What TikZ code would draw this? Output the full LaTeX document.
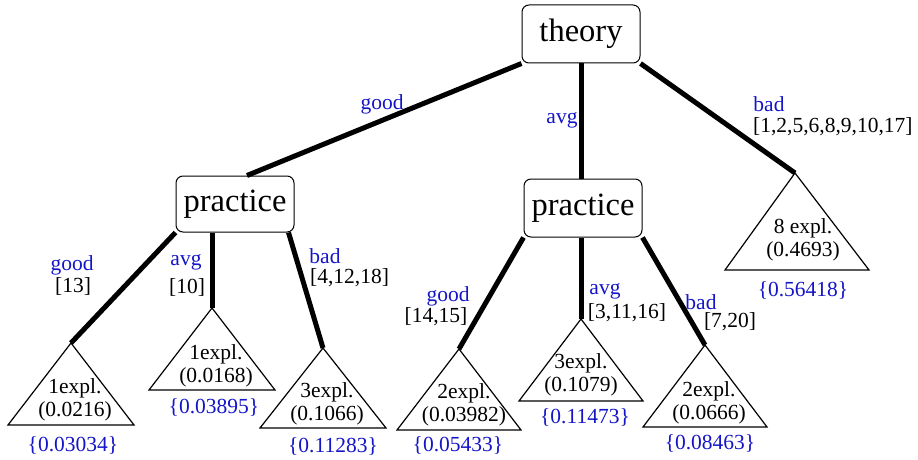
\documentclass[tikz,border=0pt]{standalone}
\usepackage{fontspec}
\setmainfont{Liberation Serif}
\usetikzlibrary{positioning,calc}
\definecolor{lblblue}{RGB}{20,20,200}

\begin{document}
\begin{tikzpicture}[x=1pt,y=-1pt, every node/.style={font=\fontsize{21.5}{23}\selectfont, inner sep=0pt}]
    \tikzset{
        attr/.style={draw, rounded corners=7pt, line width=1pt, minimum width=118pt, minimum height=56pt, font=\fontsize{32.5}{34}\selectfont},
        branch/.style={line width=5pt},
        leaf/.style={line width=1.2pt, line join=miter},
        lbl/.style={text=lblblue},
        score/.style={text=lblblue},
        expl/.style={align=center}
    }
    \useasboundingbox (0,0) rectangle (918,460);

    % attribute boxes
    \node[attr, minimum height=58pt] (theory) at (581,34) {theory};
    \node[attr] (lp) at (235,204) {practice};
    \node[attr, minimum height=58pt] (mp) at (583,208) {practice};

    % leaf apexes
    \coordinate (t1) at (71,343);
    \coordinate (t2) at (212,308);
    \coordinate (t3) at (323,348);
    \coordinate (t4) at (459,349);
    \coordinate (t5) at (581,319);
    \coordinate (t6) at (705,345);
    \coordinate (t7) at (795,173);

    % branches
    \draw[branch] (theory.south west) -- ([xshift=12pt]lp.north);
    \draw[branch] (theory.south) -- (theory.south |- mp.north);
    \draw[branch] (theory.south east) -- (t7);
    \draw[branch] (lp.south west) -- (t1);
    \draw[branch] (t2 |- lp.south) -- (t2);
    \draw[branch] ([xshift=-6pt]lp.south east) -- (t3);
    \draw[branch] (mp.south west) -- (t4);
    \draw[branch] (t5 |- mp.south) -- (t5);
    \draw[branch] (mp.south east) -- (t6);

    % leaves
    \draw[leaf] (t1) -- ++(-63,82) -- ++(126,0) -- cycle;
    \draw[leaf] (t2) -- ++(-63,82) -- ++(126,0) -- cycle;
    \draw[leaf] (t3) -- ++(-63,80) -- ++(126,0) -- cycle;
    \draw[leaf] (t4) -- ++(-62,81) -- ++(124,0) -- cycle;
    \draw[leaf] (t5) -- ++(-62,82) -- ++(124,0) -- cycle;
    \draw[leaf] (t6) -- ++(-62,82) -- ++(124,0) -- cycle;
    \draw[leaf] (t7) -- ++(-70,97) -- ++(144,0) -- cycle;

    \node[expl] (e1) at (75,400) {1expl.\\(0.0216)};
    \node[expl] (e2) at (216,366) {1expl.\\(0.0168)};
    \node[expl] (e3) at (327,404) {3expl.\\(0.1066)};
    \node[expl] (e4) at (464,405) {2expl.\\(0.03982)};
    \node[expl] (e5) at (581,375) {3expl.\\(0.1079)};
    \node[expl] (e6) at (709,403) {2expl.\\(0.0666)};
    \node[expl] (e7) at (803,240) {8 expl.\\(0.4693)};

    \node[score] (s1) at (73,445) {\{0.03034\}};
    \node[score] (s2) at (214,407) {\{0.03895\}};
    \node[score] (s3) at (333,446) {\{0.11283\}};
    \node[score] (s4) at (458,445) {\{0.05433\}};
    \node[score] (s5) at (585,417) {\{0.11473\}};
    \node[score] (s6) at (710,443) {\{0.08463\}};
    \node[score] (s7) at (803,290) {\{0.56418\}};

    % branch labels
    \node[lbl] (g0) at (382,104) {good};
    \node[lbl] (a0) at (562,120) {avg};
    \node[lbl] (b0) at (769,104) {bad};
    \node[anchor=west] (i0) at (753,127) {[1,2,5,6,8,9,10,17]};

    \node[lbl] (g1) at (72,265) {good};
    \node (i1) at (73,286) {[13]};
    \node[lbl] (a1) at (186,262) {avg};
    \node (i2) at (187,287) {[10]};
    \node[lbl] (b1) at (325,256) {bad};
    \node[anchor=west] (i3) at (310,278) {[4,12,18]};

    \node[lbl] (g2) at (448,296) {good};
    \node (i4) at (436,317) {[14,15]};
    \node[lbl] (a2) at (605,291) {avg};
    \node (i5) at (627,313) {[3,11,16]};
    \node[lbl] (b2) at (701,302) {bad};
    \node (i6) at (730,322) {[7,20]};
\end{tikzpicture}
\end{document}
